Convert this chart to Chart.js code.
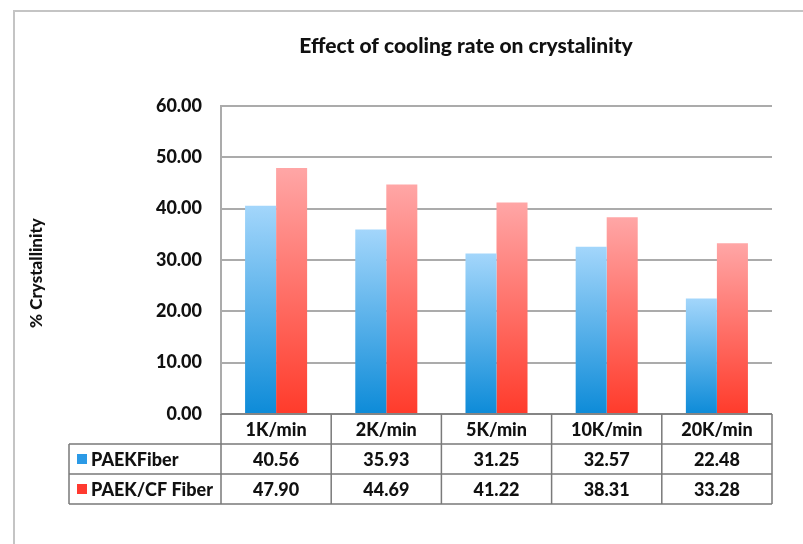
<!DOCTYPE html>
<html>
<head>
<meta charset="utf-8">
<script src="https://cdn.jsdelivr.net/npm/chart.js@4.4.1/dist/chart.umd.min.js"></script>
<style>
  html, body { margin: 0; padding: 0; background: #fff; }
  #wrap { width: 803px; height: 544px; position: relative; }
</style>
</head>
<body>
<div id="wrap"><canvas id="crystChart"></canvas></div>
<script>
const rates = ['1K/min', '2K/min', '5K/min', '10K/min', '20K/min'];
const paekFiber = [40.56, 35.93, 31.25, 32.57, 22.48];
const paekCfFiber = [47.90, 44.69, 41.22, 38.31, 33.28];
const seriesNames = ['PAEKFiber', 'PAEK/CF Fiber'];
const yTicks = [0, 10, 20, 30, 40, 50, 60];
const chartTitle = 'Effect of cooling rate on crystalinity';
const yTitle = '% Crystallinity';

const FONT = 'Lato, "Liberation Sans", sans-serif';
const W = '900';
const ROW_H = 30;

// each bar gets its own top-to-bottom gradient, like the Excel original
function barGradient(ctx, top, bottom) {
    const chart = ctx.chart;
    const area = chart.chartArea;
    if (!area) return bottom;
    const yTop = chart.scales.y.getPixelForValue(ctx.raw);
    const g = chart.ctx.createLinearGradient(0, yTop, 0, area.bottom);
    g.addColorStop(0, top);
    g.addColorStop(1, bottom);
    return g;
}

const frame = {
    id: 'frame',
    beforeDraw(chart) {
        const c = chart.ctx;
        const area = chart.chartArea;
        c.save();
        c.strokeStyle = '#c4c4c4';
        c.lineWidth = 2;
        c.beginPath();
        c.moveTo(14, 544);
        c.lineTo(14, 11);
        c.lineTo(803, 11);
        c.stroke();

        c.fillStyle = '#111';
        c.textAlign = 'center';
        c.textBaseline = 'middle';
        c.font = W + ' 21px ' + FONT;
        c.fillText(chartTitle, 466, 46);

        c.translate(37, 273);
        c.rotate(-Math.PI / 2);
        c.font = W + ' 17px ' + FONT;
        c.fillText(yTitle, 0, 0);
        c.restore();
    }
};

const dataTable = {
    id: 'dataTable',
    afterDraw(chart) {
        const c = chart.ctx;
        const x = chart.scales.x;
        const area = chart.chartArea;
        const n = rates.length;
        const colW = (area.right - area.left) / n;
        const y0 = area.bottom;
        const tableLeft = 69;
        const bottom = y0 + ROW_H * 3;

        c.save();
        c.strokeStyle = '#7a7a7a';
        c.lineWidth = 1.5;
        c.beginPath();
        c.moveTo(area.left, y0); c.lineTo(area.right, y0);
        for (let r = 1; r <= 3; r++) {
            c.moveTo(tableLeft, y0 + ROW_H * r);
            c.lineTo(area.right, y0 + ROW_H * r);
        }
        c.moveTo(tableLeft, y0 + ROW_H); c.lineTo(tableLeft, bottom);
        for (let i = 0; i <= n; i++) {
            const xx = area.left + colW * i;
            c.moveTo(xx, y0); c.lineTo(xx, bottom);
        }
        c.stroke();

        c.fillStyle = '#111';
        c.font = W + ' 18px ' + FONT;
        c.textAlign = 'center';
        c.textBaseline = 'middle';
        rates.forEach((r, i) => {
            const cx = x.getPixelForValue(i);
            c.fillText(r, cx, y0 + ROW_H / 2 + 1);
            c.fillText(paekFiber[i].toFixed(2), cx, y0 + ROW_H * 1.5 + 1);
            c.fillText(paekCfFiber[i].toFixed(2), cx, y0 + ROW_H * 2.5 + 1);
        });

        const keys = ['#2b9ae6', '#ff3a30'];
        c.textAlign = 'left';
        seriesNames.forEach((s, k) => {
            const cy = y0 + ROW_H * (1.5 + k);
            c.fillStyle = keys[k];
            c.fillRect(77, cy - 5, 10, 10);
            c.fillStyle = '#111';
            c.fillText(s, 91, cy + 1);
        });
        c.restore();
    }
};

new Chart(document.getElementById('crystChart'), {
    type: 'bar',
    data: {
        labels: rates,
        datasets: [{
            label: seriesNames[0],
            data: paekFiber,
            backgroundColor: ctx => barGradient(ctx, '#a3d6fb', '#0d8bd8'),
            borderWidth: 0
        }, {
            label: seriesNames[1],
            data: paekCfFiber,
            backgroundColor: ctx => barGradient(ctx, '#ffa6a6', '#ff3b2b'),
            borderWidth: 0
        }]
    },
    options: {
        responsive: true,
        maintainAspectRatio: false,
        animation: false,
        categoryPercentage: 0.563,
        barPercentage: 1.0,
        layout: {
            padding: { left: 0, right: 31, top: 106, bottom: 130 }
        },
        scales: {
            x: { display: false },
            y: {
                min: 0,
                max: 60,
                afterFit: scale => { scale.width = 221; },
                afterBuildTicks: scale => { scale.ticks = yTicks.map(v => ({ value: v })); },
                ticks: {
                    padding: 19,
                    color: '#111',
                    font: { family: FONT, size: 18, weight: W },
                    callback: v => Number(v).toFixed(2)
                },
                grid: {
                    color: '#ababab',
                    lineWidth: 2,
                    drawTicks: false
                },
                border: { color: '#ababab', width: 2 }
            }
        },
        plugins: {
            legend: { display: false },
            tooltip: { enabled: false },
            title: { display: false }
        }
    },
    plugins: [frame, dataTable]
});
</script>
</body>
</html>
